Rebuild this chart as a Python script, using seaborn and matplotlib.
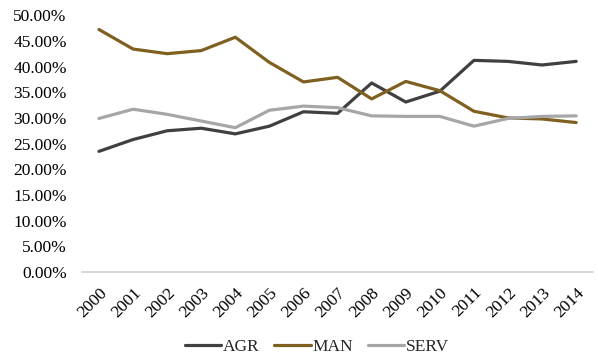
import matplotlib
matplotlib.use("Agg")
import matplotlib.pyplot as plt
import seaborn as sns
import pandas as pd
from matplotlib.ticker import PercentFormatter

# sector shares by year
years = [str(y) for y in range(2000, 2015)]
agr = [23.5, 25.8, 27.5, 28.0, 26.9, 28.4, 31.2, 30.9, 36.8, 33.1, 35.2, 41.2, 41.0, 40.3, 41.0]
man = [47.2, 43.4, 42.5, 43.1, 45.7, 40.8, 37.0, 37.9, 33.7, 37.1, 35.3, 31.3, 30.0, 29.8, 29.1]
serv = [29.9, 31.7, 30.7, 29.4, 28.1, 31.5, 32.3, 32.0, 30.4, 30.3, 30.3, 28.4, 29.9, 30.3, 30.4]

df = pd.DataFrame({"year": years, "AGR": agr, "MAN": man, "SERV": serv})
long = df.melt(id_vars="year", var_name="sector", value_name="share")
long["share"] = long["share"] / 100

sns.set_style("white")
plt.rcParams["font.family"] = ["Liberation Serif", "DejaVu Serif"]

fig = plt.figure(figsize=(5.98, 3.6), dpi=100)
ax = fig.add_axes([0.137, 0.244, 0.855, 0.714])

palette = {"AGR": "#404040", "MAN": "#7f6020", "SERV": "#a6a6a6"}
sns.lineplot(data=long, x="year", y="share", hue="sector", palette=palette,
             linewidth=2.3, ax=ax, sort=False)

ax.set_ylim(0, 0.5)
ax.set_xlim(-0.5, 14.5)
ax.set_yticks([i * 0.05 for i in range(11)])
ax.yaxis.set_major_formatter(PercentFormatter(1.0, decimals=2))
ax.set_xlabel("")
ax.set_ylabel("")
for s in ["top", "right", "left"]:
    ax.spines[s].set_visible(False)
ax.spines["bottom"].set_color("#d0d0d0")
ax.spines["bottom"].set_linewidth(1.2)
ax.tick_params(axis="both", length=0, labelsize=12.5, colors="black")
ax.tick_params(axis="y", pad=11)
ax.tick_params(axis="x", pad=9)
plt.setp(ax.get_xticklabels(), rotation=45, ha="right", rotation_mode="anchor")

ax.legend(loc="center", bbox_to_anchor=(0.46, -0.29), ncol=3, frameon=False,
          fontsize=12.5, handlelength=2.1, handletextpad=0.1, columnspacing=0.85)

fig.savefig("out.png", dpi=100)
